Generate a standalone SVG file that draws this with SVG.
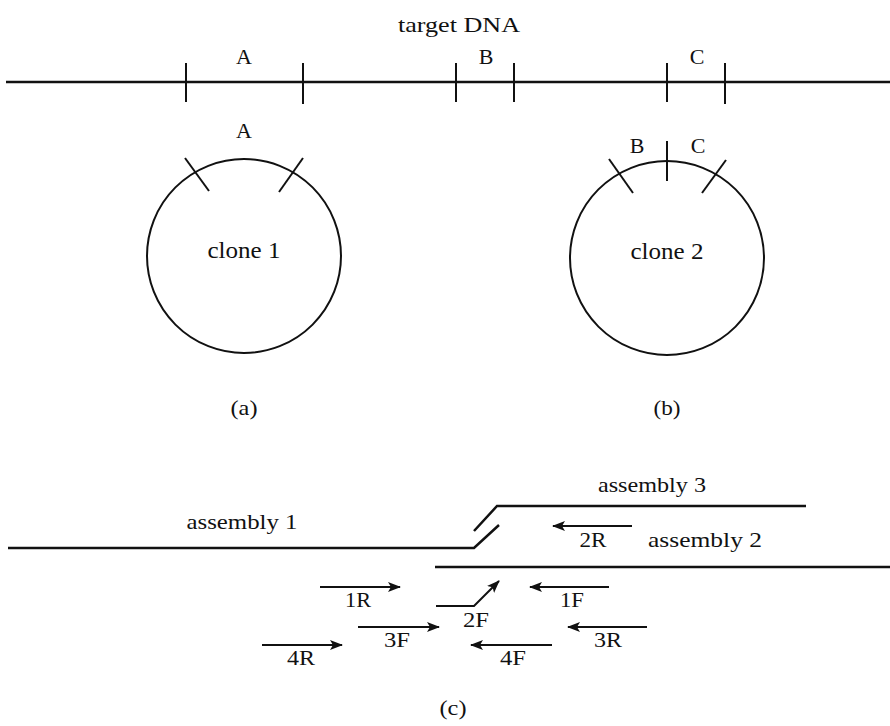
<svg xmlns="http://www.w3.org/2000/svg" width="890" height="726" viewBox="0 0 890 726">
<defs>
<style>
text{font-family:"Liberation Serif","DejaVu Serif","Times New Roman",serif;fill:#111;text-anchor:middle}
.t{font-size:22px}
.c{font-size:23px}
.l{font-size:21px}
.ln{stroke:#111;stroke-width:2.5;fill:none}
.tk{stroke:#111;stroke-width:2;fill:none}
.ci{stroke:#111;stroke-width:2;fill:none}
.ar{stroke:#111;stroke-width:2;fill:none;marker-end:url(#ah)}
</style>
<marker id="ah" markerWidth="13" markerHeight="11" refX="12" refY="5.5" orient="auto" markerUnits="userSpaceOnUse">
<path d="M0,0.5 L13,5.5 L0,10.5 L3,5.5 z" fill="#111"/>
</marker>
</defs>
<rect width="890" height="726" fill="#fff"/>

<g id="target">
<text class="t" x="459" y="32" textLength="122" lengthAdjust="spacingAndGlyphs">target DNA</text>
<line class="ln" x1="6" y1="82" x2="890" y2="82"/>
<line class="tk" x1="186" y1="63" x2="186" y2="102"/>
<line class="tk" x1="303" y1="63" x2="303" y2="104"/>
<line class="tk" x1="456" y1="63" x2="456" y2="102"/>
<line class="tk" x1="514" y1="63" x2="514" y2="102"/>
<line class="tk" x1="667" y1="63" x2="667" y2="102"/>
<line class="tk" x1="725" y1="63" x2="725" y2="104"/>
<text class="t" x="244" y="64">A</text>
<text class="t" x="486" y="64">B</text>
<text class="t" x="697" y="64">C</text>
</g>

<g id="clone1">
<circle class="ci" cx="244" cy="256" r="97"/>
<line class="tk" x1="185" y1="158" x2="209" y2="191"/>
<line class="tk" x1="303" y1="158" x2="279" y2="192"/>
<text class="t" x="244" y="138">A</text>
<text class="c" x="244" y="258" textLength="73" lengthAdjust="spacingAndGlyphs">clone 1</text>
<text class="t" x="244" y="415" textLength="27" lengthAdjust="spacingAndGlyphs">(a)</text>
</g>

<g id="clone2">
<circle class="ci" cx="667" cy="258" r="97"/>
<line class="tk" x1="609" y1="159" x2="633" y2="193"/>
<line class="tk" x1="726" y1="160" x2="702" y2="193"/>
<line class="tk" x1="667" y1="141" x2="667" y2="181"/>
<text class="t" x="637" y="153">B</text>
<text class="t" x="698" y="153">C</text>
<text class="c" x="667" y="259" textLength="73" lengthAdjust="spacingAndGlyphs">clone 2</text>
<text class="t" x="667" y="415" textLength="27" lengthAdjust="spacingAndGlyphs">(b)</text>
</g>

<g id="assembly1">
<polyline class="ln" points="8,548 474,548 499,525"/>
<text class="l" x="242" y="529" textLength="111" lengthAdjust="spacingAndGlyphs">assembly 1</text>
</g>

<g id="assembly3">
<polyline class="ln" points="474,531 497,506 806,506"/>
<text class="l" x="652" y="492" textLength="108" lengthAdjust="spacingAndGlyphs">assembly 3</text>
</g>

<g id="assembly2">
<line class="ln" x1="435" y1="567" x2="890" y2="567"/>
<text class="l" x="705" y="547" textLength="114" lengthAdjust="spacingAndGlyphs">assembly 2</text>
</g>

<g id="primers">
<line class="ar" x1="632" y1="526" x2="553" y2="526"/>
<text class="l" x="593" y="547" textLength="27" lengthAdjust="spacingAndGlyphs">2R</text>
<line class="ar" x1="320" y1="587" x2="400" y2="587"/>
<text class="l" x="358" y="607" textLength="26" lengthAdjust="spacingAndGlyphs">1R</text>
<polyline class="ar" points="436,606 474,606 499,581"/>
<text class="l" x="476" y="627" textLength="26" lengthAdjust="spacingAndGlyphs">2F</text>
<line class="ar" x1="609" y1="587" x2="530" y2="587"/>
<text class="l" x="572" y="607" textLength="24" lengthAdjust="spacingAndGlyphs">1F</text>
<line class="ar" x1="358" y1="627" x2="439" y2="627"/>
<text class="l" x="397" y="647" textLength="26" lengthAdjust="spacingAndGlyphs">3F</text>
<line class="ar" x1="647" y1="627" x2="568" y2="627"/>
<text class="l" x="608" y="647" textLength="28" lengthAdjust="spacingAndGlyphs">3R</text>
<line class="ar" x1="262" y1="645" x2="342" y2="645"/>
<text class="l" x="301" y="665" textLength="28" lengthAdjust="spacingAndGlyphs">4R</text>
<line class="ar" x1="552" y1="645" x2="471" y2="645"/>
<text class="l" x="513" y="665" textLength="26" lengthAdjust="spacingAndGlyphs">4F</text>
</g>

<text class="t" x="453" y="715" textLength="27" lengthAdjust="spacingAndGlyphs">(c)</text>
</svg>
